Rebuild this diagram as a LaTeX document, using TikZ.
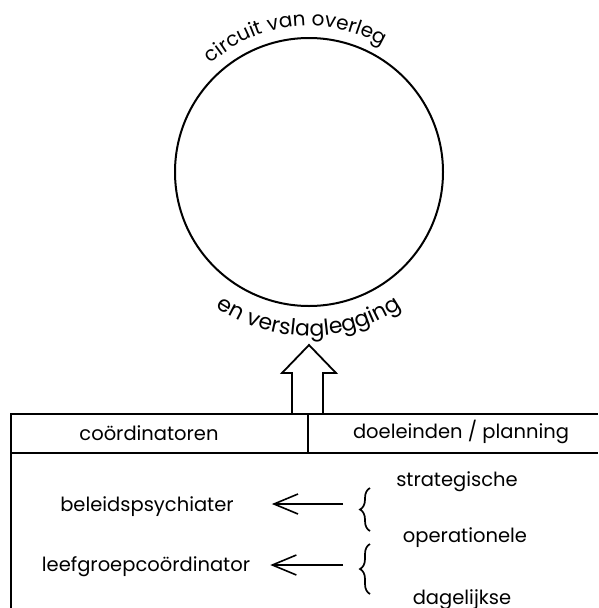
\documentclass[tikz,border=0pt]{standalone}
\usepackage{fontspec}
\setmainfont{Poppins}
\usetikzlibrary{arrows.meta,decorations.text,decorations.pathreplacing}
\newcommand{\lblfont}{\fontsize{19.5}{22}\selectfont}
\newcommand{\topfont}{\fontsize{20}{22}\selectfont}
\newcommand{\botfont}{\fontsize{22}{24}\selectfont}
\begin{document}
\begin{tikzpicture}[x=1pt,y=-1pt,
  rule/.style={line width=1.8pt},
  lbl/.style={font=\lblfont, inner sep=0pt, anchor=base},
  ptr/.style={line width=1.5pt, -{Straight Barb[length=24pt,width=20pt,line width=1.6pt]}},
  brc/.style={line width=1.7pt, decorate, decoration={brace, amplitude=10pt}},
  bigarrow/.style={line width=1.8pt, line join=miter},
]
\useasboundingbox (0,0) rectangle (598,608);

% consultation cycle
\node[circle, draw, line width=2pt, minimum size=268pt, inner sep=0pt] (circ) at (309,172) {};
\path[decorate, decoration={text along path, text align=center,
    text={|\topfont|circuit van overleg}}]
  (circ.center) ++(-165:146) arc[start angle=-165, end angle=-27, radius=146];
\path[decorate, decoration={text along path, text align=center,
    text={|\botfont|en verslaglegging}}]
  (circ.center) ++(150:164) arc[start angle=150, end angle=30, radius=164];

% hollow arrow from the table up to the cycle
\coordinate (sl) at (292,414);
\coordinate (sr) at (323,414);
\coordinate (tip) at (309,345);
\draw[bigarrow] (sl) -- (292,373) -- (282,373) -- (tip) -- (336,373) -- (323,373) -- (sr);

% table frame
\draw[rule] (11,608) -- (11,414) -- (598,414);
\draw[rule] (11,453) -- (598,453);
\draw[rule] (308,414) -- (308,453);

% header row
\node[lbl] (hc) at (149,440) {coördinatoren};
\node[lbl] (hd) at (461,438) {doeleinden / planning};

% body
\node[lbl] (strat) at (457,486) {strategische};
\node[lbl] (bel) at (147,511) {beleidspsychiater};
\node[lbl] (oper) at (465,542) {operationele};
\node[lbl] (leef) at (146,571) {leefgroepcoördinator};
\node[lbl] (dag) at (462,604) {dagelijkse};

\coordinate (b1s) at (370,531);
\coordinate (b1e) at (370,488);
\coordinate (b2s) at (370,594);
\coordinate (b2e) at (370,544);
\draw[brc] (b1s) -- (b1e);
\draw[brc] (b2s) -- (b2e);

\coordinate (a1) at (343,504);
\coordinate (a2) at (343,565);
\draw[ptr] (a1) -- (a1 -| bel.east) [shorten >=38pt];
\draw[ptr] (a2) -- (a2 -| leef.east) [shorten >=20pt];
\end{tikzpicture}
\end{document}
